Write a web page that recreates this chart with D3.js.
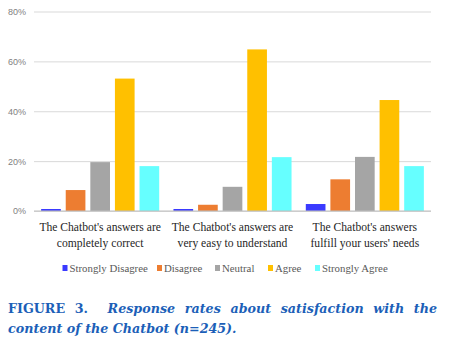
<!DOCTYPE html>
<html>
<head>
<meta charset="utf-8">
<script src="https://cdn.jsdelivr.net/npm/d3@7.9.0/dist/d3.min.js"></script>
<style>
  body { margin: 0; background: #fff; }
  svg { display: block; }
  .serif { font-family: "Liberation Serif", serif; }
  .caption { font-family: "DejaVu Serif", serif; }
</style>
</head>
<body>
<div id="chart"></div>
<script>
// survey questions (two lines each) and the answer scale
const questions = [
  ["The Chatbot's answers are", "completely correct"],
  ["The Chatbot's answers are", "very easy to understand"],
  ["The Chatbot's answers", "fulfill your users' needs"]
];
const answers = ["Strongly Disagree", "Disagree", "Neutral", "Agree", "Strongly Agree"];
const answerColors = ["#3a3aff", "#ed7d31", "#a5a5a5", "#ffc000", "#66ffff"];

// percentage of respondents per answer, one array per question
const correctPct = [0.8, 8.4, 19.6, 53.1, 18.0];
const easyPct = [0.8, 2.5, 9.7, 64.8, 21.6];
const needsPct = [2.8, 12.7, 21.7, 44.5, 18.0];
const rates = [correctPct, easyPct, needsPct];

const yTicks = [0, 20, 40, 60, 80];

const W = 460, H = 342;
const plot = {left: 34, right: 431, top: 11.5, bottom: 211};

const svg = d3.select("#chart").append("svg")
  .attr("width", W).attr("height", H);

const x0 = d3.scaleBand()
  .domain(d3.range(questions.length))
  .range([plot.left, plot.right]);

const x1 = d3.scaleBand()
  .domain(answers)
  .range([0, x0.bandwidth()])
  .paddingInner(0.2)
  .paddingOuter(0.29);

const y = d3.scaleLinear()
  .domain([0, 80])
  .range([plot.bottom, plot.top]);

// gridlines + tick labels
const yAxis = svg.append("g")
  .attr("transform", `translate(${plot.left},0)`)
  .call(d3.axisLeft(y).tickValues(yTicks).tickSize(-(plot.right - plot.left))
    .tickFormat(d => d + "%").tickPadding(8));
yAxis.select(".domain").remove();
yAxis.selectAll(".tick line").attr("stroke", "#d9d9d9").attr("stroke-width", 1);
yAxis.selectAll(".tick text")
  .attr("fill", "#7f7f7f")
  .style("font-family", "'Liberation Sans Narrow', 'Liberation Sans', sans-serif")
  .style("font-size", "9px");

// bars
const groups = svg.selectAll("g.question")
  .data(rates)
  .join("g")
  .attr("class", "question")
  .attr("transform", (d, i) => `translate(${x0(i)},0)`);

groups.selectAll("rect")
  .data(d => d.map((v, j) => ({answer: answers[j], value: v, color: answerColors[j]})))
  .join("rect")
  .attr("x", d => x1(d.answer))
  .attr("y", d => y(d.value))
  .attr("width", x1.bandwidth())
  .attr("height", d => y(0) - y(d.value))
  .attr("fill", d => d.color);

// baseline
svg.append("line")
  .attr("x1", plot.left).attr("x2", plot.right)
  .attr("y1", y(0)).attr("y2", y(0))
  .attr("stroke", "#bfbfbf").attr("stroke-width", 1);

// question labels
svg.selectAll("text.qlabel")
  .data(questions)
  .join("text")
  .attr("class", "qlabel serif")
  .attr("text-anchor", "middle")
  .attr("fill", "#262626")
  .attr("font-size", 11.6)
  .each(function(lines, i) {
    d3.select(this).selectAll("tspan")
      .data(lines)
      .join("tspan")
      .attr("x", x0(i) + x0.bandwidth() / 2)
      .attr("y", (l, k) => 231 + k * 16)
      .text(l => l);
  });

// legend
const legend = svg.append("g").attr("class", "serif").attr("font-size", 10.8);
const legendX = [62.5, 157, 215, 268, 315];
answers.forEach((a, j) => {
  const g = legend.append("g").attr("transform", `translate(${legendX[j]},268)`);
  g.append("rect").attr("x", 0).attr("y", -3).attr("width", 5).attr("height", 6)
    .attr("fill", answerColors[j]);
  g.append("text").attr("x", 7).attr("y", 3.5).attr("fill", "#595959").text(a);
});

// figure caption, first line justified
const capColor = "#1c5fb8";
const cap = svg.append("g")
  .attr("class", "caption")
  .attr("font-size", 12.7)
  .attr("fill", capColor);

const line1 = [
  {t: "FIGURE", b: true, i: false}, {t: "3.", b: true, i: false},
  {t: "Response", b: true, i: true}, {t: "rates", b: true, i: true},
  {t: "about", b: true, i: true}, {t: "satisfaction", b: true, i: true},
  {t: "with", b: true, i: true}, {t: "the", b: true, i: true}
];
const capLeft = 8, capRight = 437;
const words = cap.selectAll("text.w1")
  .data(line1)
  .join("text")
  .attr("class", "w1")
  .attr("y", 313)
  .attr("font-weight", d => d.b ? "bold" : "normal")
  .attr("font-style", d => d.i ? "italic" : "normal")
  .text(d => d.t);
const widths = [];
words.each(function() { widths.push(this.getComputedTextLength()); });
const extraAfter = [0, 10, 0, 0, 0, 0, 0, 0]; // wider gap after the figure number
const totalW = d3.sum(widths) + d3.sum(extraAfter);
const gap = (capRight - capLeft - totalW) / (line1.length - 1);
let cx = capLeft;
words.each(function(d, k) {
  d3.select(this).attr("x", cx);
  cx += widths[k] + gap + extraAfter[k];
});

cap.append("text")
  .attr("x", capLeft).attr("y", 333)
  .attr("font-weight", "bold")
  .attr("font-style", "italic")
  .text("content of the Chatbot (n=245).");
</script>
</body>
</html>
